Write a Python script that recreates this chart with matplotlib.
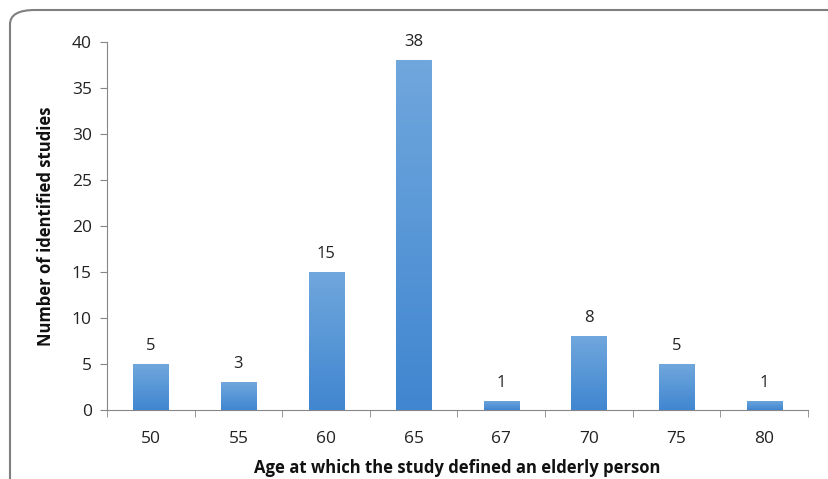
import numpy as np
import matplotlib.pyplot as plt
from matplotlib.patches import FancyBboxPatch
from matplotlib.colors import LinearSegmentedColormap

# -----------------------------
# Data
# -----------------------------
ages = ["50", "55", "60", "65", "67", "70", "75", "80"]
studies = [5, 3, 15, 38, 1, 8, 5, 1]

plt.rcParams["font.family"] = ["Open Sans", "DejaVu Sans"]

fig = plt.figure(figsize=(8.29, 4.79), dpi=100)
W, H = 829, 479

# rounded frame around the chart (runs off the right and bottom edges)
frame = FancyBboxPatch((10 / W, -0.05), 1.1, (479 - 10) / H + 0.05,
                       boxstyle="round,pad=0,rounding_size=0.03",
                       transform=fig.transFigure, facecolor="none",
                       edgecolor="#7f7f7f", linewidth=1.5, clip_on=False)
fig.patches.append(frame)

ax = fig.add_axes([107 / W, (479 - 410) / H, (808 - 107) / W, (410 - 42) / H])

x = np.arange(len(ages))
bars = ax.bar(x, studies, width=0.4, color="#5b9bd5", edgecolor="none", zorder=2)

# vertical gradient inside every bar
cmap = LinearSegmentedColormap.from_list("blue_grad", ["#4086d0", "#70a7dd"])
grad = np.linspace(0, 1, 256).reshape(-1, 1)
for b in bars:
    x0, y0 = b.get_x(), b.get_y()
    w, h = b.get_width(), b.get_height()
    im = ax.imshow(grad, cmap=cmap, origin="lower", aspect="auto",
                   extent=[x0, x0 + w, y0, y0 + h], zorder=3)
    im.set_clip_path(b)

for xi, v in zip(x, studies):
    ax.text(xi, v + 1.1, str(v), ha="center", va="bottom", fontsize=12, color="#222222")

ax.set_xlim(-0.5, len(ages) - 0.5)
ax.set_ylim(0, 40)
ax.set_yticks(range(0, 41, 5))
ax.set_xticks(x)
ax.set_xticklabels(ages)
ax.set_xticks(np.arange(-0.5, len(ages), 1), minor=True)
ax.tick_params(axis="x", which="major", length=0, pad=15, labelsize=12.5, labelcolor="#222222")
ax.tick_params(axis="x", which="minor", length=5, color="#868686", direction="out")
ax.tick_params(axis="y", length=5, color="#868686", labelsize=12.5, pad=6, labelcolor="#222222")

for s in ["top", "right"]:
    ax.spines[s].set_visible(False)
for s in ["left", "bottom"]:
    ax.spines[s].set_color("#868686")

ax.set_xlabel("Age at which the study defined an elderly person", fontsize=12,
              fontweight="bold", labelpad=9, color="#111111")
ax.set_ylabel("Number of identified studies", fontsize=12, fontweight="bold",
              labelpad=12, color="#111111")

fig.savefig("out.png", dpi=100)
